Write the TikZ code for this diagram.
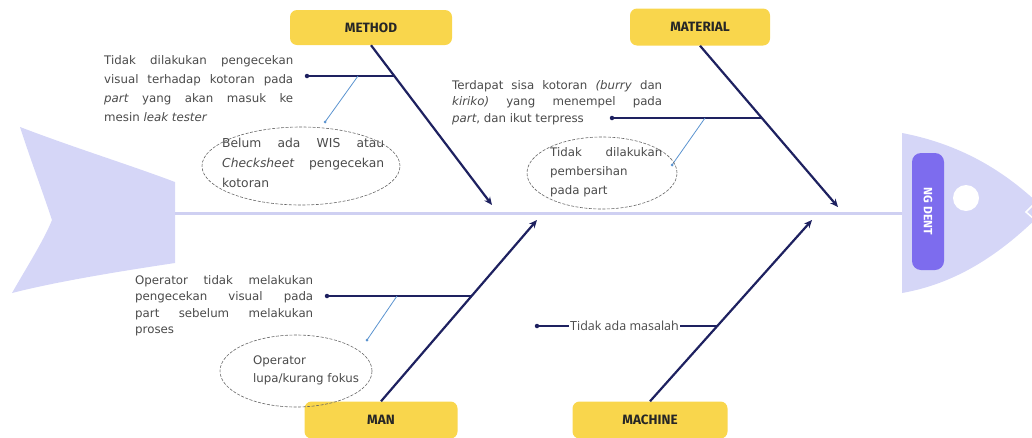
\documentclass[tikz,border=0pt]{standalone}
\usepackage{fontspec}
\setmainfont{Open Sans}
\newfontfamily\headfont{Fira Sans}
\newfontfamily\causefont{DejaVu Sans}
\usetikzlibrary{arrows.meta,shapes.geometric,calc}
\definecolor{fish}{HTML}{D5D6F7}
\definecolor{spinec}{HTML}{CFD0F2}
\definecolor{navy}{HTML}{1E2160}
\definecolor{ylw}{HTML}{F9D64C}
\definecolor{subblue}{HTML}{5A93CF}
\definecolor{txt}{HTML}{4A4A4A}
\definecolor{pillc}{HTML}{7D6CEE}
\newcommand\jl[2]{\makebox[#1][s]{#2}}
\begin{document}
\begin{tikzpicture}[x=1pt,y=-1pt,
  catbox/.style={fill=ylw, rounded corners=7pt, inner sep=0pt, font=\headfont\bfseries\fontsize{13.5}{15}\selectfont, text=black!85},
  bone/.style={navy, line width=2.2pt, -{Stealth[length=8pt,width=7pt]}},
  branch/.style={navy, line width=1.6pt},
  sub/.style={subblue, line width=0.8pt},
  dotn/.style={circle, fill=navy, inner sep=0pt, minimum size=4.5pt},
  subdot/.style={circle, fill=subblue, inner sep=0pt, minimum size=3pt},
  oval/.style={ellipse, draw=black!60, inner sep=0pt, line width=0.6pt, dash pattern=on 3pt off 1.5pt},
  cause/.style={anchor=base west, inner sep=0pt, align=left, text=txt},
]
\useasboundingbox (0,0) rectangle (1032,437);
% tail
\fill[fish] (20,127) .. controls (75,148) and (130,165) .. (175,182) -- (175,263)
  .. controls (115,272) and (55,282) .. (12,293)
  .. controls (28,265) and (44,240) .. (52,220)
  .. controls (42,190) and (30,158) .. cycle;
% head
\fill[fish] (902,133) .. controls (965,145) and (1010,175) .. (1045,210)
  .. controls (1010,245) and (965,282) .. (902,293) -- cycle;
\fill[white] (966,198) circle (13pt);
\draw[white, line width=1.5pt] (1034,204) -- (1026,212) -- (1034,219);
% spine
\coordinate (tailend) at (175,213);
\coordinate (headstart) at (902,213);
\draw[spinec, line width=3pt] (tailend) -- (headstart);
% effect
\node[fill=pillc, rounded corners=9pt, rotate=-90, minimum width=117pt, minimum height=32pt, inner sep=0pt,
  text=white, font=\headfont\bfseries\fontsize{12}{14}\selectfont] (effect) at (928,211.5) {NG DENT};
% categories
\node[catbox, minimum width=162pt, minimum height=35pt] (method) at (371,27.5) {METHOD};
\node[catbox, minimum width=140pt, minimum height=37pt] (material) at (700,27) {MATERIAL};
\node[catbox, minimum width=153pt, minimum height=37pt] (man) at (381,420) {MAN};
\node[catbox, minimum width=155pt, minimum height=37pt] (machine) at (650,420) {MACHINE};
\coordinate (pm) at (492,205);
\coordinate (pmat) at (838,207);
\coordinate (pman) at (537,220);
\coordinate (pmac) at (812,220);
\draw[bone] (method.south) -- (pm);
\draw[bone] (material.south) -- (pmat);
\draw[bone] (man.north) -- (pman);
\draw[bone] (machine.north) -- (pmac);
% branch points
\coordinate (b1) at ($(method.south)!0.189!(pm)$);
\coordinate (b2) at ($(material.south)!0.449!(pmat)$);
\coordinate (b3) at ($(man.north)!0.581!(pman)$);
\coordinate (b4) at ($(machine.north)!0.416!(pmac)$);
% METHOD
\node[dotn] (d1) at (307,76) {};
\draw[branch] (d1.center) -- (d1 -| b1);
\coordinate (s1a) at (358,76);
\node[subdot] (s1b) at (325,122) {};
\draw[sub] (s1a) -- (s1b.center);
\node[cause, font=\causefont\fontsize{11.8}{19}\selectfont] (t1) at (104,121)
  {\jl{189pt}{Tidak dilakukan pengecekan}\\\jl{189pt}{visual terhadap kotoran pada}\\\jl{189pt}{\textit{part} yang akan masuk ke}\\mesin \textit{leak tester}};
\node[oval, minimum width=198pt, minimum height=78pt] (e1) at (301,166) {};
\node[cause, font=\causefont\fontsize{12.3}{20}\selectfont] (t1b) at (222,187)
  {\jl{162pt}{Belum ada WIS atau}\\\jl{162pt}{\textit{Checksheet} pengecekan}\\kotoran};
% MATERIAL
\node[dotn] (d2) at (612,118) {};
\draw[branch] (d2.center) -- (d2 -| b2);
\coordinate (s2a) at (705,118);
\node[subdot] (s2b) at (672,165) {};
\draw[sub] (s2a) -- (s2b.center);
\node[cause, font=\causefont\fontsize{11.8}{16.5}\selectfont] (t2) at (452,122)
  {\jl{210pt}{Terdapat sisa kotoran \textit{(burry} dan}\\\jl{210pt}{\textit{kiriko)} yang menempel pada}\\\textit{part}, dan ikut terpress};
\node[oval, minimum width=150pt, minimum height=72pt] (e2) at (602,173) {};
\node[cause, font=\causefont\fontsize{11.8}{19}\selectfont] (t2b) at (550,194)
  {\jl{112pt}{Tidak dilakukan}\\pembersihan\\pada part};
% MAN
\node[dotn] (d3) at (327,296) {};
\draw[branch] (d3.center) -- (d3 -| b3);
\coordinate (s3a) at (397,296);
\node[subdot] (s3b) at (367,340) {};
\draw[sub] (s3a) -- (s3b.center);
\node[cause, font=\causefont\fontsize{11.8}{16.5}\selectfont] (t3) at (135,333.5)
  {\jl{178pt}{Operator tidak melakukan}\\\jl{178pt}{pengecekan visual pada}\\\jl{178pt}{part sebelum melakukan}\\proses};
\node[oval, minimum width=152pt, minimum height=72pt] (e3) at (296,371) {};
\node[cause, font=\causefont\fontsize{11.8}{18}\selectfont] (t3b) at (253,382)
  {Operator\\lupa/kurang fokus};
% MACHINE
\node[dotn] (d4) at (537,326) {};
\draw[navy, line width=1.2pt] (d4.center) -- (d4 -| b4);
\node[fill=white, inner sep=1pt, text=txt, font=\fontsize{12.5}{14}\selectfont] (t4) at (624.5,326) {Tidak ada masalah};
\end{tikzpicture}
\end{document}
